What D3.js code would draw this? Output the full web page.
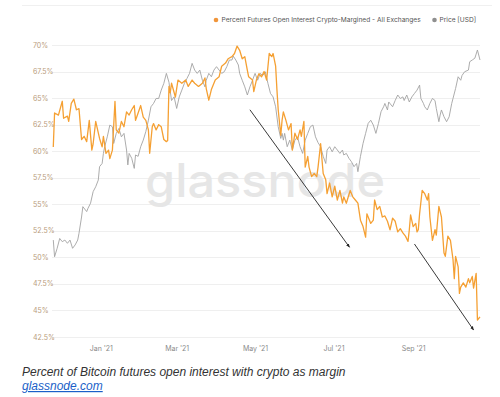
<!DOCTYPE html>
<html><head><meta charset="utf-8">
<script src="https://cdn.jsdelivr.net/npm/d3@7"></script>
<style>
html,body{margin:0;padding:0;background:#fff;}
svg{display:block;}
</style></head>
<body>
<svg id="chart" width="500" height="397"></svg>
<script>
// ---- data (day offsets from 2021-01-01) ----
const startRef = new Date(2021, 0, 1);
const xDomain = [new Date(2020, 10, 24), new Date(2021, 9, 23)];
const yTicks = [42.5, 45, 47.5, 50, 52.5, 55, 57.5, 60, 62.5, 65, 67.5, 70];
const xTicks = [new Date(2021,0,1), new Date(2021,2,1), new Date(2021,4,1), new Date(2021,6,1), new Date(2021,8,1)];
const priceDomain = [10060, 68300];
const seriesNames = ["Percent Futures Open Interest Crypto-Margined - All Exchanges", "Price [USD]"];

const pctSeries = [
[-37,60.4],[-36,63.6],[-33,63.4],[-30,64.7],[-29,63.1],[-26,63.3],[-25,62.8],[-23,64.5],[-21,64.9],[-19,63.9],
[-17,64.0],[-15,61.1],[-13,61.4],[-11,60.9],[-9,62.9],[-7,60.1],[-6,60.7],[-4,62.8],[-1,61.2],[1,60.4],
[2,61.4],[4,59.8],[6,60.1],[7,59.3],[9,60.1],[11,64.7],[12,62.0],[14,61.7],[16,62.8],[18,62.3],
[20,63.7],[22,63.4],[24,63.9],[26,64.3],[27,62.9],[29,63.6],[31,64.3],[33,63.2],[35,62.9],[37,62.0],
[38,59.8],[40,62.3],[41,62.6],[43,62.0],[45,62.5],[47,62.3],[49,61.1],[51,60.9],[52,61.0],[53,66.1],
[54,65.5],[55,66.4],[58,65.1],[60,66.7],[63,66.4],[66,66.7],[68,66.1],[71,66.7],[73,66.4],[76,66.1],
[79,66.4],[81,66.9],[82,65.9],[84,64.8],[86,65.8],[89,66.7],[92,67.0],[94,68.0],[97,68.3],[99,68.7],
[102,68.9],[104,69.2],[106,69.9],[108,69.5],[110,68.7],[112,68.9],[114,67.6],[115,67.0],[118,66.7],[119,65.6],
[121,66.7],[123,67.3],[125,67.0],[127,67.5],[129,66.7],[131,69.2],[133,68.9],[134,69.2],[136,68.0],[137,65.8],
[138,63.9],[140,61.5],[141,62.9],[142,63.7],[144,62.9],[146,62.0],[148,62.6],[149,60.1],[151,61.7],[153,61.1],
[155,62.0],[156,61.4],[158,62.8],[159,58.5],[161,59.5],[162,58.5],[164,57.6],[166,57.9],[168,57.6],[169,58.5],
[171,60.7],[173,57.9],[175,57.3],[176,56.0],[178,57.0],[180,55.7],[182,56.7],[184,55.4],[186,56.3],[188,55.1],
[189,55.7],[191,55.1],[194,56.3],[196,55.7],[198,55.4],[200,55.1],[202,53.5],[204,52.9],[206,51.9],[207,54.1],
[210,53.2],[212,53.5],[213,55.4],[215,54.5],[217,54.8],[219,53.8],[221,53.9],[223,53.4],[225,52.6],[227,53.7],
[229,53.4],[231,52.4],[233,52.7],[235,52.3],[237,52.0],[239,51.5],[240,52.6],[241,54.0],[243,52.9],[245,53.2],
[246,52.4],[247,52.6],[248,54.1],[250,56.3],[252,56.0],[254,55.4],[255,56.0],[256,53.8],[258,51.6],[260,52.6],
[261,52.1],[263,54.8],[265,53.8],[267,50.4],[268,50.1],[270,52.0],[272,51.6],[274,49.8],[275,48.0],[276,50.1],
[278,49.1],[279,46.6],[280,47.2],[282,47.6],[284,47.2],[286,48.0],[287,47.6],[289,48.2],[290,47.1],[292,48.5],
[293,44.1],[295,44.4]
];

const priceSeries = [
[-37,19000],[-36,17030],[-34,18000],[-32,19200],[-30,18800],[-28,19000],[-26,18600],[-24,19000],[-22,18000],[-20,18400],
[-18,19000],[-17,19860],[-15,22100],[-14,23650],[-11,22900],[-10,23400],[-8,24200],[-6,26100],[-4,26950],[-2,28150],
[-1,30750],[1,31400],[2,33550],[3,35050],[5,37400],[7,40400],[9,39950],[10,35800],[12,38250],[14,39500],
[16,37400],[18,38250],[20,34300],[21,31100],[22,33550],[24,32500],[26,30400],[27,33200],[29,32900],[31,35050],
[33,36600],[35,38700],[37,41700],[39,45550],[41,46550],[43,48100],[45,48100],[47,50800],[49,53100],[51,56700],
[53,53500],[55,47450],[57,48600],[59,45050],[61,48600],[63,50800],[65,53100],[67,54850],[69,56700],[71,60550],
[73,57950],[75,56700],[77,57950],[79,54200],[81,51900],[82,54200],[84,56700],[86,55450],[88,57950],[90,59250],
[92,57950],[94,56700],[96,57300],[98,59250],[100,61900],[102,61900],[103,63500],[105,61900],[107,59900],[108,56700],
[110,54200],[112,51900],[114,49200],[116,51900],[118,54200],[120,56700],[122,54200],[124,56700],[126,55900],[128,57300],
[130,53100],[132,49700],[134,48600],[136,45550],[138,39950],[140,37000],[141,38250],[142,36600],[143,38250],[145,35050],
[147,36600],[149,34300],[151,36600],[153,37400],[155,35050],[157,33550],[159,36600],[161,38250],[163,39950],[165,40400],
[167,37400],[169,36000],[171,35050],[173,32900],[175,31400],[176,34300],[178,35050],[180,33900],[182,35050],[184,34300],
[186,33550],[188,34300],[189,33200],[191,33550],[193,32500],[195,31750],[197,30750],[199,31400],[200,29750],[202,32900],
[204,35800],[206,38250],[208,40850],[210,41700],[212,40400],[214,38250],[216,40850],[218,44100],[220,45550],[221,46550],
[223,44600],[224,47000],[227,45550],[229,47450],[231,49200],[233,48100],[235,48600],[236,47450],[238,49200],[240,47000],
[242,48600],[244,49700],[246,50800],[248,52500],[249,48100],[251,46550],[252,45550],[254,44600],[256,46550],[258,48100],
[260,47450],[261,45050],[263,41300],[264,43150],[265,44600],[267,42650],[269,41300],[271,42650],[273,46550],[274,48100],
[276,51350],[278,55450],[280,54200],[281,55900],[283,57300],[286,57950],[287,61200],[289,61900],[291,62650],[293,66100],
[295,61900]
];

// annotation arrows: [startDay, startPct, endDay, endPct]
const arrows = [
  [116, 63.9, 193.5, 50.95],
  [244, 51.26, 290, 43.16]
];

const caption = "Percent of Bitcoin futures open interest with crypto as margin";
const linkText = "glassnode.com";
const watermark = "glassnode";

// ---- drawing ----
const svg = d3.select("#chart");
const toDate = d => d3.timeDay.offset(startRef, Math.floor(d)).getTime() + (d - Math.floor(d)) * 864e5;

const x = d3.scaleTime().domain(xDomain).range([52, 480]);
const y = d3.scaleLinear().domain([42.5, 70]).range([337, 45]);
const yp = d3.scaleLog().domain(priceDomain).range([337, 45]);

const orange = "#f5a033";
const grey = "#a3a3a3";

// top separator
svg.append("line").attr("x1", 22).attr("x2", 492).attr("y1", 5.5).attr("y2", 5.5)
  .attr("stroke", "#f0f0f0").attr("stroke-width", 1);

// gridlines
svg.append("g").selectAll("line").data(yTicks).join("line")
  .attr("x1", 52).attr("x2", 480)
  .attr("y1", d => Math.round(y(d)) + 0.5).attr("y2", d => Math.round(y(d)) + 0.5)
  .attr("stroke", "#efefef").attr("stroke-width", 1);

// y labels
svg.append("g").selectAll("text").data(yTicks).join("text")
  .attr("x", 33).attr("y", d => y(d) + 2.5)
  .attr("font-family", "Inter, 'Noto Sans', sans-serif").attr("font-size", 7)
  .attr("fill", "#b99c7c")
  .text(d => d + "%");

// x axis labels
const xAxis = d3.axisBottom(x).tickValues(xTicks).tickFormat(d3.timeFormat("%b '%y")).tickSize(0);
const gx = svg.append("g").attr("transform", "translate(0,343)").call(xAxis);
gx.select(".domain").remove();
gx.selectAll("text").attr("font-family", "Inter, 'Noto Sans', sans-serif").attr("font-size", 7).attr("fill", "#8a8a8a");

// watermark
svg.append("text").attr("x", 145).attr("y", 197)
  .attr("font-family", "Inter, 'Noto Sans', sans-serif").attr("font-weight", 500)
  .attr("font-size", 46).attr("fill", "#e6e6e6")
  .attr("textLength", 240).attr("lengthAdjust", "spacingAndGlyphs")
  .text(watermark);

// price line
svg.append("path").datum(priceSeries)
  .attr("fill", "none").attr("stroke", grey).attr("stroke-width", 0.9)
  .attr("stroke-linejoin", "round")
  .attr("d", d3.line().x(d => x(toDate(d[0]))).y(d => yp(d[1])));

// percent line
svg.append("path").datum(pctSeries)
  .attr("fill", "none").attr("stroke", orange).attr("stroke-width", 1.3)
  .attr("stroke-linejoin", "round")
  .attr("d", d3.line().x(d => x(toDate(d[0]))).y(d => y(d[1])));

// arrows
const defs = svg.append("defs");
defs.append("marker").attr("id", "ah").attr("viewBox", "0 0 10 10")
  .attr("refX", 9).attr("refY", 5).attr("markerWidth", 4.5).attr("markerHeight", 4.5)
  .attr("orient", "auto")
  .append("path").attr("d", "M0,1 L10,5 L0,9 z").attr("fill", "#222");
svg.append("g").selectAll("line").data(arrows).join("line")
  .attr("x1", d => x(toDate(d[0]))).attr("y1", d => y(d[1]))
  .attr("x2", d => x(toDate(d[2]))).attr("y2", d => y(d[3]))
  .attr("stroke", "#222").attr("stroke-width", 0.9)
  .attr("marker-end", "url(#ah)");

// legend
const lg = svg.append("g").attr("font-family", "Inter, 'Noto Sans', sans-serif").attr("font-size", 6.6).attr("fill", "#555");
lg.append("circle").attr("cx", 216).attr("cy", 20).attr("r", 2.3).attr("fill", "#f0953a");
lg.append("text").attr("x", 221.5).attr("y", 22.3).text(seriesNames[0]);
lg.append("circle").attr("cx", 434.5).attr("cy", 20).attr("r", 2.3).attr("fill", "#8f8f8f");
lg.append("text").attr("x", 439.5).attr("y", 22.3).text(seriesNames[1]);

// caption
svg.append("text").attr("x", 22).attr("y", 376)
  .attr("font-family", "'Liberation Sans', Arial, sans-serif").attr("font-style", "italic")
  .attr("font-size", 12).attr("fill", "#333").text(caption);
svg.append("text").attr("x", 22).attr("y", 390)
  .attr("font-family", "'Liberation Sans', Arial, sans-serif").attr("font-style", "italic")
  .attr("font-size", 12).attr("fill", "#1a5fc8").attr("text-decoration", "underline").text(linkText);
</script>
</body></html>
